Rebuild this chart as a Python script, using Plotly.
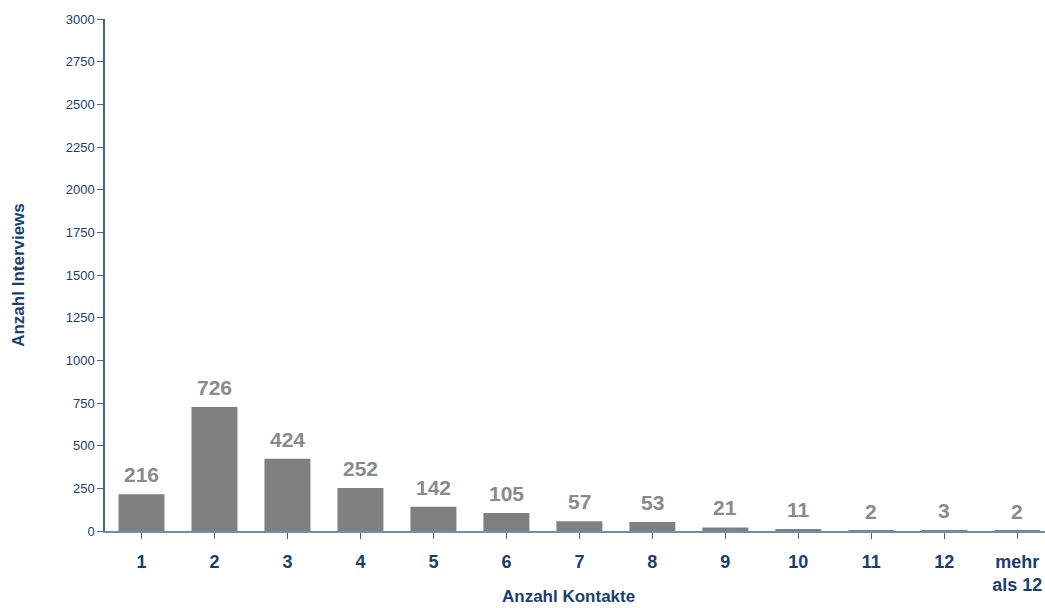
import plotly.graph_objects as go

categories = ["1", "2", "3", "4", "5", "6", "7", "8", "9", "10", "11", "12", "mehr<br>als 12"]
values = [216, 726, 424, 252, 142, 105, 57, 53, 21, 11, 2, 3, 2]
y_ticks = [0, 250, 500, 750, 1000, 1250, 1500, 1750, 2000, 2250, 2500, 2750, 3000]

navy = "#17406f"
fnt = "Liberation Sans, Arial, Helvetica, sans-serif"

fig = go.Figure(go.Bar(
    x=list(range(len(categories))),
    y=values,
    width=0.63,
    marker=dict(color="#808080", line=dict(width=0)),
    hoverinfo="x+y",
))

for i, v in enumerate(values):
    fig.add_annotation(
        x=i, y=v, xref="x", yref="y", text="<b>%d</b>" % v,
        showarrow=False, yanchor="bottom", yshift=6,
        font=dict(family=fnt, size=21, color="#8a8a8a"),
    )

fig.add_annotation(
    x=0.5, y=0, xref="paper", yref="paper", text="<b>Anzahl Kontakte</b>",
    showarrow=False, yanchor="middle", xanchor="center", yshift=-65, xshift=-7,
    font=dict(family=fnt, size=17, color=navy),
)

fig.update_layout(
    width=1045, height=608,
    margin=dict(l=105, r=0, t=19, b=77),
    paper_bgcolor="white", plot_bgcolor="white",
    showlegend=False,
    font=dict(family=fnt, color=navy),
)
fig.update_xaxes(
    tickmode="array",
    tickvals=list(range(len(categories))),
    ticktext=["<b>%s</b>" % c for c in categories],
    range=[-0.5, 12.38],
    tickfont=dict(size=18, color=navy),
    showline=True, linecolor="#6f8db0", linewidth=2,
    ticks="outside", ticklen=6, tickcolor="#3f6593",
    ticklabelstandoff=7,
    showgrid=False, zeroline=False,
    tickson="boundaries",
)
fig.update_yaxes(
    range=[0, 3000],
    tickmode="array", tickvals=y_ticks,
    tickfont=dict(size=13, color=navy),
    showline=True, linecolor="#3f6593", linewidth=1.5,
    ticks="outside", ticklen=6, tickcolor="#3f6593",
    showgrid=False, zeroline=False,
    title=dict(text="<b>Anzahl Interviews</b>", font=dict(size=17, color=navy), standoff=37),
)

fig.write_html("out.html", config={"displayModeBar": False},
               post_script="document.body.style.margin='0';")
